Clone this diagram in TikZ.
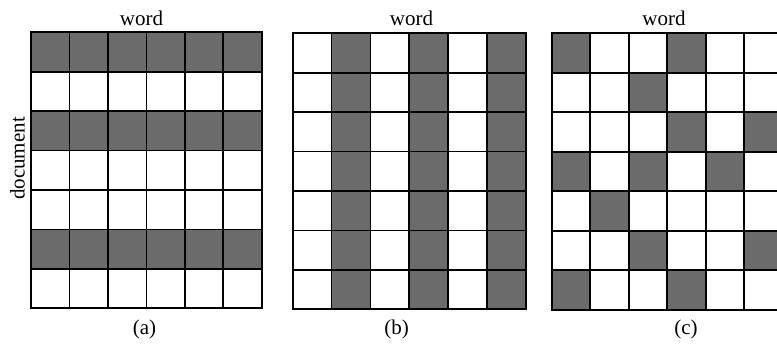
\documentclass[tikz,border=0pt]{standalone}
\usepackage{fontspec}
\setmainfont{Liberation Serif}
\definecolor{shadecol}{gray}{0.42}
\begin{document}
\begin{tikzpicture}[x=1pt,y=-1pt,
  gridline/.style={draw=black, line width=1.7pt, line cap=rect},
  shadecell/.style={fill=shadecol},
  lbl/.style={font=\fontsize{21}{25}\selectfont, inner sep=0pt, text=black}]
\useasboundingbox (0,0) rectangle (777,343);
\clip (0,0) rectangle (777,343);
% ---------- grid (a): shaded rows ----------
\begin{scope}[shift={(31,32.3)}]
  \foreach \r in {0,2,5}
    \fill[shadecell] (0,{\r*39.43}) rectangle (230.7,{(\r+1)*39.43});
  \foreach \c in {0,...,6}
    \draw[gridline] ({\c*38.45},0) -- ({\c*38.45},276);
  \foreach \r in {0,...,7}
    \draw[gridline] (0,{\r*39.43}) -- (230.7,{\r*39.43});
\end{scope}
% ---------- grid (b): shaded columns ----------
\begin{scope}[shift={(292.7,33.3)}]
  \foreach \c in {1,3,5}
    \fill[shadecell] ({\c*38.83},0) rectangle ({(\c+1)*38.83},276);
  \foreach \c in {0,...,6}
    \draw[gridline] ({\c*38.83},0) -- ({\c*38.83},276);
  \foreach \r in {0,...,7}
    \draw[gridline] (0,{\r*39.43}) -- (233,{\r*39.43});
\end{scope}
% ---------- grid (c): scattered cells ----------
\begin{scope}[shift={(551.7,33.3)}]
  \foreach \c/\r in {0/0,3/0,2/1,3/2,5/2,0/3,2/3,4/3,1/4,2/5,5/5,0/6,3/6}
    \fill[shadecell] ({\c*38.5},{\r*39.5}) rectangle ({(\c+1)*38.5},{(\r+1)*39.5});
  \foreach \c in {0,...,6}
    \draw[gridline] ({\c*38.5},0) -- ({\c*38.5},276.5);
  \foreach \r in {0,...,7}
    \draw[gridline] (0,{\r*39.5}) -- (231,{\r*39.5});
\end{scope}
% ---------- labels ----------
\node[lbl, anchor=base] (worda) at (141.5,25) {word};
\node[lbl, anchor=base] (wordb) at (411.5,25) {word};
\node[lbl, anchor=base] (wordc) at (664,25) {word};
\node[lbl, rotate=90] (doc) at (17.5,158.5) {document};
\node[lbl] (capa) at (144.5,329) {(a)};
\node[lbl] (capb) at (396.5,329) {(b)};
\node[lbl] (capc) at (686,329) {(c)};
\end{tikzpicture}
\end{document}
